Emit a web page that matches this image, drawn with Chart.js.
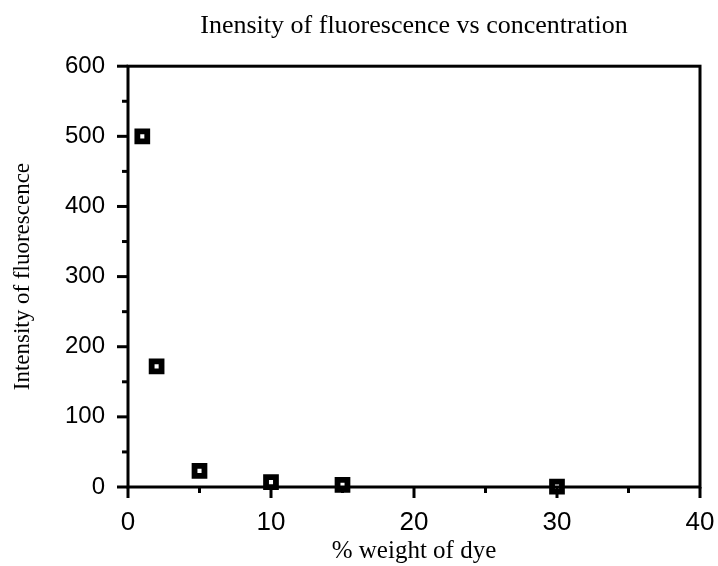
<!DOCTYPE html>
<html>
<head>
<meta charset="utf-8">
<script src="https://cdn.jsdelivr.net/npm/chart.js@4.4.1/dist/chart.umd.min.js"></script>
<style>
  html, body { margin: 0; padding: 0; background: #fff; }
  #wrap { position: relative; width: 718px; height: 566px; }
</style>
</head>
<body>
<div id="wrap"><canvas id="chart"></canvas></div>
<script>
// --- Data ---
const dyeWeight = [1, 2, 5, 10, 15, 30];
const intensity = [500, 172, 23, 7, 3, 0.5];

const xMajorTicks = [0, 10, 20, 30, 40];
const xMinorTicks = [5, 15, 25, 35];
const yMajorTicks = [0, 100, 200, 300, 400, 500, 600];
const yMinorTicks = [50, 150, 250, 350, 450, 550];

// frame + outward tick marks, placed through the scales
const framePlugin = {
  id: 'frame',
  afterDraw(chart) {
    const { ctx, chartArea: a, scales } = chart;
    const xs = scales.x, ys = scales.y;
    ctx.save();
    ctx.strokeStyle = '#000';
    ctx.lineWidth = 3;
    ctx.strokeRect(a.left, a.top, a.right - a.left, a.bottom - a.top);
    const tick = (x1, y1, x2, y2) => { ctx.beginPath(); ctx.moveTo(x1, y1); ctx.lineTo(x2, y2); ctx.stroke(); };
    xMajorTicks.forEach(v => { const p = xs.getPixelForValue(v); tick(p, a.bottom, p, a.bottom + 11); });
    xMinorTicks.forEach(v => { const p = xs.getPixelForValue(v); tick(p, a.bottom, p, a.bottom + 6); });
    yMajorTicks.forEach(v => { const p = ys.getPixelForValue(v); tick(a.left, p, a.left - 11, p); });
    yMinorTicks.forEach(v => { const p = ys.getPixelForValue(v); tick(a.left, p, a.left - 6, p); });
    ctx.restore();
  },
};

const serif = "'Liberation Serif', 'DejaVu Serif', serif";
const sans = "'Liberation Sans', Arial, sans-serif";

new Chart(document.getElementById('chart'), {
  type: 'scatter',
  data: {
    datasets: [{
      label: 'Intensity',
      data: dyeWeight.map((x, i) => ({ x, y: intensity[i] })),
      pointStyle: 'rect',
      pointRadius: 7,
      pointHoverRadius: 7,
      borderWidth: 5.8,
      borderColor: '#000',
      backgroundColor: '#fff',
      clip: false,
    }],
  },
  options: {
    responsive: true,
    maintainAspectRatio: false,
    animation: false,
    layout: { padding: { left: 0, right: 18, top: 0, bottom: 0 } },
    plugins: {
      legend: { display: false },
      tooltip: { enabled: false },
      title: {
        display: true,
        fullSize: false,
        text: 'Inensity of fluorescence vs concentration',
        color: '#000',
        font: { family: serif, size: 26, weight: 'normal' },
        padding: { top: 11, bottom: 24 },
      },
    },
    scales: {
      x: {
        type: 'linear',
        min: 0, max: 40,
        afterFit(s) { s.height = 79; s.paddingLeft = 0; s.paddingRight = 0; },
        grid: { display: false },
        border: { display: false },
        ticks: {
          stepSize: 10,
          color: '#000',
          padding: 12,
          font: { family: sans, size: 26 },
          callback: v => xMajorTicks.includes(v) ? String(v) : '',
        },
        title: {
          display: true,
          text: '% weight of dye',
          color: '#000',
          font: { family: serif, size: 25, lineHeight: 0.7 },
          padding: { top: 0, bottom: 6 },
        },
      },
      y: {
        type: 'linear',
        min: 0, max: 600,
        afterFit(s) { s.width = 128; s.paddingTop = 0; s.paddingBottom = 0; },
        grid: { display: false },
        border: { display: false },
        ticks: {
          stepSize: 100,
          color: '#000',
          padding: 15,
          font: { family: sans, size: 24 },
          callback: v => yMajorTicks.includes(v) ? String(v) : '',
        },
        title: {
          display: true,
          text: 'Intensity of fluorescence',
          color: '#000',
          font: { family: serif, size: 23 },
          padding: { top: 9, bottom: 0 },
        },
      },
    },
  },
  plugins: [framePlugin],
});
</script>
</body>
</html>
